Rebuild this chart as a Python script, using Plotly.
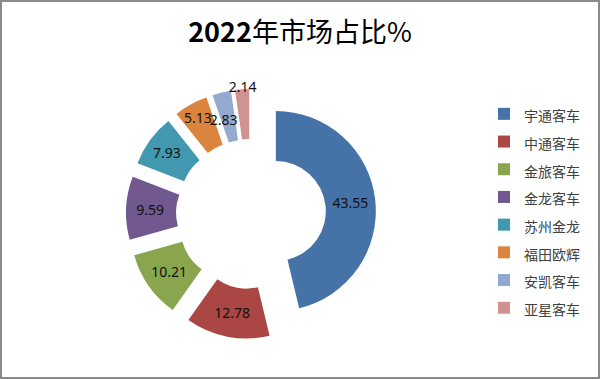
import plotly.graph_objects as go

categories = ["宇通客车", "中通客车", "金旅客车", "金龙客车", "苏州金龙", "福田欧辉", "安凯客车", "亚星客车"]
values = [43.55, 12.78, 10.21, 9.59, 7.93, 5.13, 2.83, 2.14]
colors = ["#4572A7", "#AA4643", "#89A54E", "#71588F", "#4198AF", "#DB843D", "#93A9CF", "#D19392"]
title_text = "<b>2022</b>年市场占比%"

W, H = 600, 379
cx, cy, half = 251, 214, 125

# label text; the two thin slices get blank padding lines so their labels are offset like the reference
labels_txt = [f"{v:.2f}" for v in values]
labels_txt[6] = "&nbsp;<br>&nbsp;<br>" + labels_txt[6]
labels_txt[7] = labels_txt[7] + "<br>&nbsp;"

fig = go.Figure(go.Pie(
    labels=['<span style="font-size:14px">' + c + '</span>' for c in categories],
    values=values,
    text=labels_txt,
    textinfo="text",
    textposition="inside",
    insidetextorientation="horizontal",
    textfont=dict(family="Noto Sans, Open Sans, sans-serif", size=14, color="#111111"),
    marker=dict(colors=colors, line=dict(width=0)),
    hole=0.5,
    pull=[0.25] * len(values),
    sort=False,
    direction="clockwise",
    rotation=0,
    domain=dict(x=[(cx - half) / W, (cx + half) / W],
                y=[1 - (cy + half) / H, 1 - (cy - half) / H]),
    hoverinfo="label+value",
))

fig.update_layout(
    width=W, height=H,
    margin=dict(l=0, r=0, t=0, b=0),
    paper_bgcolor="white",
    plot_bgcolor="white",
    uniformtext=dict(minsize=14, mode="show"),
    title=dict(text=title_text, x=0.5, xanchor="center", y=1 - 33 / H, yanchor="middle",
               yref="container",
               font=dict(family="Noto Sans CJK SC, sans-serif", size=27, color="#000000")),
    legend=dict(x=484 / W, xanchor="left", y=1 - 95 / H, yanchor="top",
                font=dict(family="Noto Sans CJK SC, sans-serif", size=19, color="#404040"),
                bgcolor="rgba(0,0,0,0)", itemclick=False),
    shapes=[dict(type="rect", xref="paper", yref="paper", x0=0, x1=1, y0=0, y1=1,
                 line=dict(color="#8a8a8a", width=4), fillcolor="rgba(0,0,0,0)")],
)

fig.write_html("out.html")
